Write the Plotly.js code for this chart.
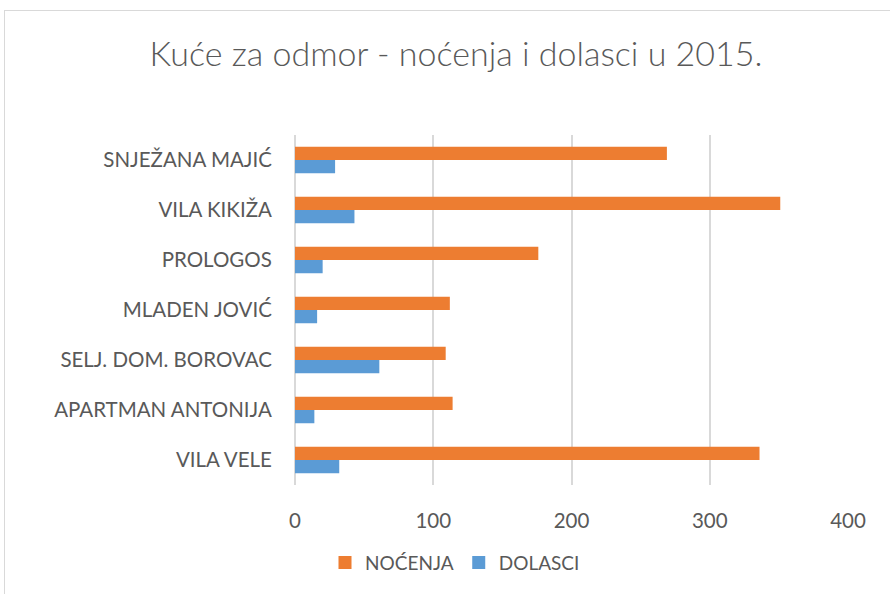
<!DOCTYPE html>
<html>
<head>
<meta charset="utf-8">
<script src="https://cdn.plot.ly/plotly-3.0.1.min.js"></script>
<style>
html,body{margin:0;padding:0;background:#fff;}
#wrap{position:relative;width:890px;height:594px;overflow:hidden;}
#frame{position:absolute;left:4px;top:10px;width:900px;height:600px;border:1px solid #d9d9d9;box-sizing:border-box;}
#chart{position:absolute;left:0;top:0;width:890px;height:594px;}
</style>
</head>
<body>
<div id="wrap"><div id="frame"></div><div id="chart"></div></div>
<script>
const categories = ["VILA VELE", "APARTMAN ANTONIJA", "SELJ. DOM. BOROVAC", "MLADEN JOVIĆ", "PROLOGOS", "VILA KIKIŽA", "SNJEŽANA MAJIĆ"];
const nocenja = [336, 114, 109, 112, 176, 351, 269];
const dolasci = [32, 14, 61, 16, 20, 43, 29];
const xTicks = [0, 100, 200, 300, 400];

const FONT = "Lato, 'Open Sans', sans-serif";
const TXT = "#595959";
const ORANGE = "#ED7D31";
const BLUE = "#5B9BD5";

const data = [
  {type: "bar", orientation: "h", name: "DOLASCI", y: categories, x: dolasci,
   marker: {color: BLUE}, hoverinfo: "x+name", showlegend: false},
  {type: "bar", orientation: "h", name: "NOĆENJA", y: categories, x: nocenja,
   marker: {color: ORANGE}, hoverinfo: "x+name", showlegend: false},
  // legend entries with square keys
  {type: "scatter", mode: "markers", name: "NOĆENJA", x: [null], y: [null],
   marker: {symbol: "square", size: 13, color: ORANGE}, legendrank: 1},
  {type: "scatter", mode: "markers", name: "DOLASCI", x: [null], y: [null],
   marker: {symbol: "square", size: 13, color: BLUE}, legendrank: 2}
];

const layout = {
  width: 890, height: 594,
  paper_bgcolor: "rgba(0,0,0,0)", plot_bgcolor: "rgba(0,0,0,0)",
  margin: {l: 295, r: 42, t: 135, b: 107, pad: 0},
  barmode: "group", bargap: 0.47, bargroupgap: 0,
  font: {family: FONT, color: TXT, size: 19},
  title: {text: "Kuće za odmor - noćenja i dolasci u 2015.", font: {family: FONT, size: 34, weight: 300, color: TXT},
          x: 456/890, xanchor: "center", xref: "container", y: 1 - 54/594, yanchor: "middle", yref: "container"},
  xaxis: {range: [0, 400], tickvals: xTicks, ticktext: xTicks.map(String), showgrid: true, gridcolor: "#d9d9d9", gridwidth: 2,
          zeroline: true, zerolinecolor: "#d9d9d9", zerolinewidth: 2, showline: false,
          ticks: "outside", ticklen: 17, tickcolor: "rgba(0,0,0,0)", tickfont: {size: 20.5, color: TXT, family: FONT}, fixedrange: true},
  yaxis: {type: "category", categoryorder: "array", categoryarray: categories, showgrid: false, zeroline: false, showline: false,
          ticks: "outside", ticklen: 18, tickcolor: "rgba(0,0,0,0)", tickfont: {size: 20.5, color: TXT, family: FONT}, fixedrange: true},
  showlegend: true,
  legend: {orientation: "h", traceorder: "normal", x: (455-295)/553, xanchor: "center", y: (487-565)/352, yanchor: "middle",
           font: {size: 19, color: TXT, family: FONT}, itemwidth: 30, bgcolor: "rgba(0,0,0,0)"}
};

Plotly.newPlot("chart", data, layout, {displayModeBar: false, staticPlot: true});
</script>
</body>
</html>
